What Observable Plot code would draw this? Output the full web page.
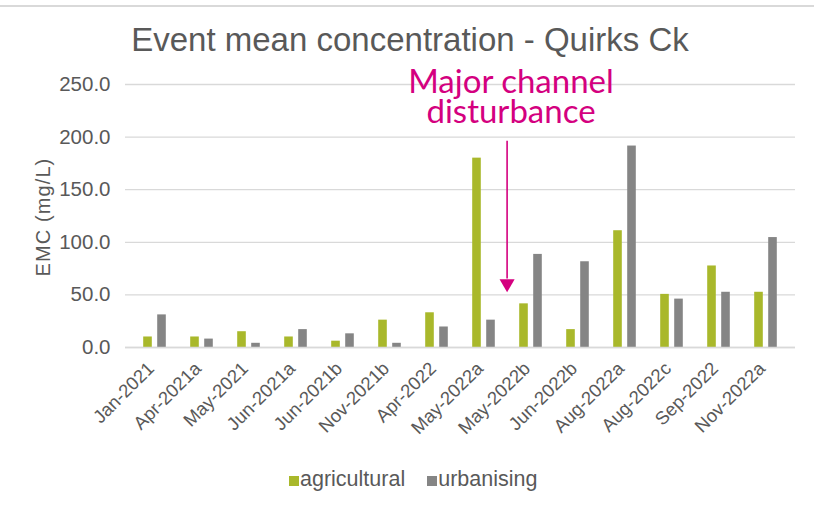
<!DOCTYPE html>
<html>
<head>
<meta charset="utf-8">
<script src="https://cdn.jsdelivr.net/npm/d3@7"></script>
<script src="https://cdn.jsdelivr.net/npm/@observablehq/plot@0.6"></script>
<style>
  body { margin: 0; background: #fff; }
  #wrap { position: relative; width: 814px; height: 511px; overflow: hidden; font-family: "Liberation Sans", Arial, sans-serif; }
  #topline { position: absolute; left: 0; top: 5px; width: 814px; height: 2px; background: #d9d9d9; }
  #title { position: absolute; left: 3px; top: 24px; width: 814px; text-align: center; font-size: 33px; line-height: 32px; color: #595959; }
  #ylabel { position: absolute; left: -57px; top: 207px; width: 200px; text-align: center; font-size: 20px; line-height: 20px; letter-spacing: 1.1px; color: #595959; transform: rotate(-90deg); transform-origin: 100px 10px; }
  #legend { position: absolute; left: 289px; top: 469px; font-size: 21.5px; line-height: 20px; color: #595959; white-space: nowrap; }
  #legend .item { display: inline-block; margin-right: 22px; }
  #legend .sw { display: inline-block; width: 10px; height: 10px; margin-right: 1px; vertical-align: baseline; }
  #chart { position: absolute; left: 0; top: 0; }
</style>
</head>
<body>
<div id="wrap">
  <div id="topline"></div>
  <div id="chart"></div>
  <div id="title">Event mean concentration - Quirks Ck</div>
  <div id="ylabel"></div>
  <div id="legend"></div>
</div>
<script>
const categories = ["Jan-2021","Apr-2021a","May-2021","Jun-2021a","Jun-2021b","Nov-2021b","Apr-2022","May-2022a","May-2022b","Jun-2022b","Aug-2022a","Aug-2022c","Sep-2022","Nov-2022a"];
const agricultural = [10, 10, 15, 10, 6, 26, 33, 180, 41.5, 17, 111, 50.5, 77.5, 52.5];
const urbanising = [31, 8, 4, 17, 13, 4, 19.5, 26, 88.5, 81.5, 191.5, 46, 52.5, 104.5];
const yTicks = [0, 50, 100, 150, 200, 250];
const seriesNames = ["agricultural", "urbanising"];
const seriesColors = ["#a9b82b", "#858585"];
const yLabel = "EMC (mg/L)";
const annotationText = "Major channel\ndisturbance";
const annotationTopY = 262;
const arrowCategory = "May-2022b";
const arrowTop = 196, arrowBottom = 65, arrowHead = 60.8;
const annotationColor = "#d4007f";

const rows = categories.map((c, i) => ({category: c, agricultural: agricultural[i], urbanising: urbanising[i]}));

const chart = Plot.plot({
  width: 814, height: 511,
  marginLeft: 125, marginRight: 19, marginTop: 84, marginBottom: 164,
  x: {domain: categories, padding: 0},
  y: {domain: [0, 250]},
  style: {fontFamily: "'Liberation Sans', Arial, sans-serif", background: "transparent", overflow: "visible"},
  marks: [
    Plot.gridY(yTicks, {stroke: "#d9d9d9", strokeOpacity: 1, strokeWidth: 1.3}),
    Plot.barY(rows, {x: "category", y: "agricultural", fill: seriesColors[0], insetLeft: 12.2, insetRight: 26.2}),
    Plot.barY(rows, {x: "category", y: "urbanising", fill: seriesColors[1], insetLeft: 26.2, insetRight: 12.2}),
    Plot.ruleY([0], {stroke: "#d9d9d9", strokeWidth: 1.5}),
    Plot.axisY(yTicks, {tickSize: 0, tickPadding: 15, tickFormat: d => d.toFixed(1), fontSize: 20.5, fill: "#595959", label: null}),
    Plot.axisX({tickSize: 0, tickRotate: -45, tickPadding: 6, fontSize: 18.5, fill: "#595959", label: null, dx: -4, dy: 12}),
    Plot.ruleX([arrowCategory], {x: d => d, y1: arrowTop, y2: arrowBottom, stroke: annotationColor, strokeWidth: 1.6, dx: -23.9}),
    Plot.dot([arrowHead], {x: () => arrowCategory, y: d => d, symbol: "triangle", rotate: 180, r: 5.6, fill: annotationColor, stroke: "none", dx: -23.9}),
    Plot.text([annotationText], {x: () => arrowCategory, y: () => annotationTopY, text: d => d, fill: annotationColor, fontSize: 33, lineHeight: 0.9, fontFamily: "Lato, 'Noto Sans', sans-serif", lineAnchor: "top", dx: -20})
  ]
});
document.getElementById("chart").appendChild(chart);
document.getElementById("ylabel").textContent = yLabel;

const legend = document.getElementById("legend");
seriesNames.forEach((name, i) => {
  const item = document.createElement("span");
  item.className = "item";
  const sw = document.createElement("span");
  sw.className = "sw";
  sw.style.background = seriesColors[i];
  item.appendChild(sw);
  item.appendChild(document.createTextNode(name));
  legend.appendChild(item);
});
</script>
</body>
</html>
